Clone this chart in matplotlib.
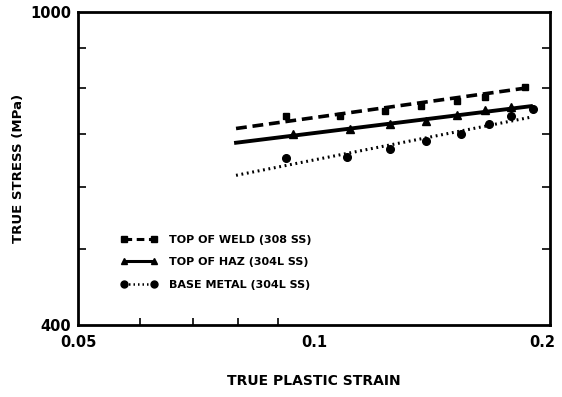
import matplotlib
matplotlib.use("Agg")
import matplotlib.pyplot as plt
import matplotlib.transforms as mtransforms
from matplotlib.ticker import FixedLocator, NullFormatter

plt.rcParams['font.family'] = ['DejaVu Sans']
plt.rcParams['font.weight'] = 'bold'

# measured points (true plastic strain, true stress MPa)
weld_strain = [0.092, 0.108, 0.123, 0.137, 0.152, 0.165, 0.186]
weld_stress = [737, 737, 748, 759, 770, 779, 802]
haz_strain = [0.094, 0.111, 0.125, 0.139, 0.152, 0.165, 0.178]
haz_stress = [700, 711, 720, 726, 740, 750, 758]
base_strain = [0.092, 0.110, 0.125, 0.139, 0.154, 0.167, 0.178, 0.190]
base_stress = [653, 655, 669, 685, 699, 720, 737, 752]

# power-law fit lines (end points)
fit_strain = [0.0795, 0.189]
weld_fit = [711, 802]
haz_fit = [682, 759]
base_fit = [620, 735]

labels = ['TOP OF WELD (308 SS)', 'TOP OF HAZ (304L SS)', 'BASE METAL (304L SS)']

fig = plt.figure(figsize=(5.62, 3.97), dpi=100)
ax = fig.add_axes([0.139, 0.181, 0.840, 0.789])
ax.set_xscale('log')
ax.set_yscale('log')

ax.plot(fit_strain, weld_fit, color='black', lw=2.6, ls=(0, (3, 1.6)))
ax.plot(fit_strain, haz_fit, color='black', lw=2.8, ls='-')
ax.plot(fit_strain, base_fit, color='black', lw=2.2, ls=(0, (0.6, 1.2)))

ax.plot(weld_strain, weld_stress, 's', color='black', ms=5)
ax.plot(haz_strain, haz_stress, '^', color='black', ms=5.5)
ax.plot(base_strain, base_stress, 'o', color='black', ms=5.5)

# legend handles: marker - line - marker
h1, = ax.plot([], [], color='black', lw=2.2, ls=(0, (2.5, 1.5)), marker='s', ms=5)
h2, = ax.plot([], [], color='black', lw=2.2, ls='-', marker='^', ms=5)
h3, = ax.plot([], [], color='black', lw=1.8, ls=(0, (0.6, 1.2)), marker='o', ms=5)
ax.legend([h1, h2, h3], labels, loc='lower left', bbox_to_anchor=(0.07, 0.08),
          frameon=False, numpoints=2, handlelength=3.3, handletextpad=1.0,
          labelspacing=1.15, prop={'size': 8, 'weight': 'bold'})

ax.set_xlim(0.05, 0.2)
ax.set_ylim(400, 1000)

ax.xaxis.set_major_locator(FixedLocator([0.05, 0.1, 0.2]))
ax.xaxis.set_minor_locator(FixedLocator([0.06, 0.07, 0.08, 0.09]))
ax.set_xticklabels(['0.05', '0.1', '0.2'])
ax.xaxis.set_minor_formatter(NullFormatter())
ax.yaxis.set_major_locator(FixedLocator([400, 1000]))
ax.yaxis.set_minor_locator(FixedLocator([500, 600, 700, 800, 900]))
ax.set_yticklabels(['400', '1000'])
ax.yaxis.set_minor_formatter(NullFormatter())

ax.tick_params(which='both', direction='in', width=1.2)
ax.tick_params(axis='x', which='major', length=0, pad=7, labelsize=10.5)
ax.tick_params(axis='x', which='minor', length=5, top=False)
ax.tick_params(axis='y', which='major', length=0, pad=5, labelsize=10.5)
ax.tick_params(axis='y', which='minor', length=6, right=True)

# keep the last strain label inside the page
last = ax.get_xticklabels()[-1]
last.set_transform(last.get_transform() +
                   mtransforms.ScaledTranslation(-6 / 72, 0, fig.dpi_scale_trans))

for s in ax.spines.values():
    s.set_linewidth(2)

ax.set_xlabel('TRUE PLASTIC STRAIN', fontsize=10, fontweight='bold')
ax.xaxis.set_label_coords(0.5, -0.155)
ax.set_ylabel('TRUE STRESS (MPa)', fontsize=9.5, fontweight='bold')
ax.yaxis.set_label_coords(-0.112, 0.5)

fig.savefig('out.png', dpi=100)
